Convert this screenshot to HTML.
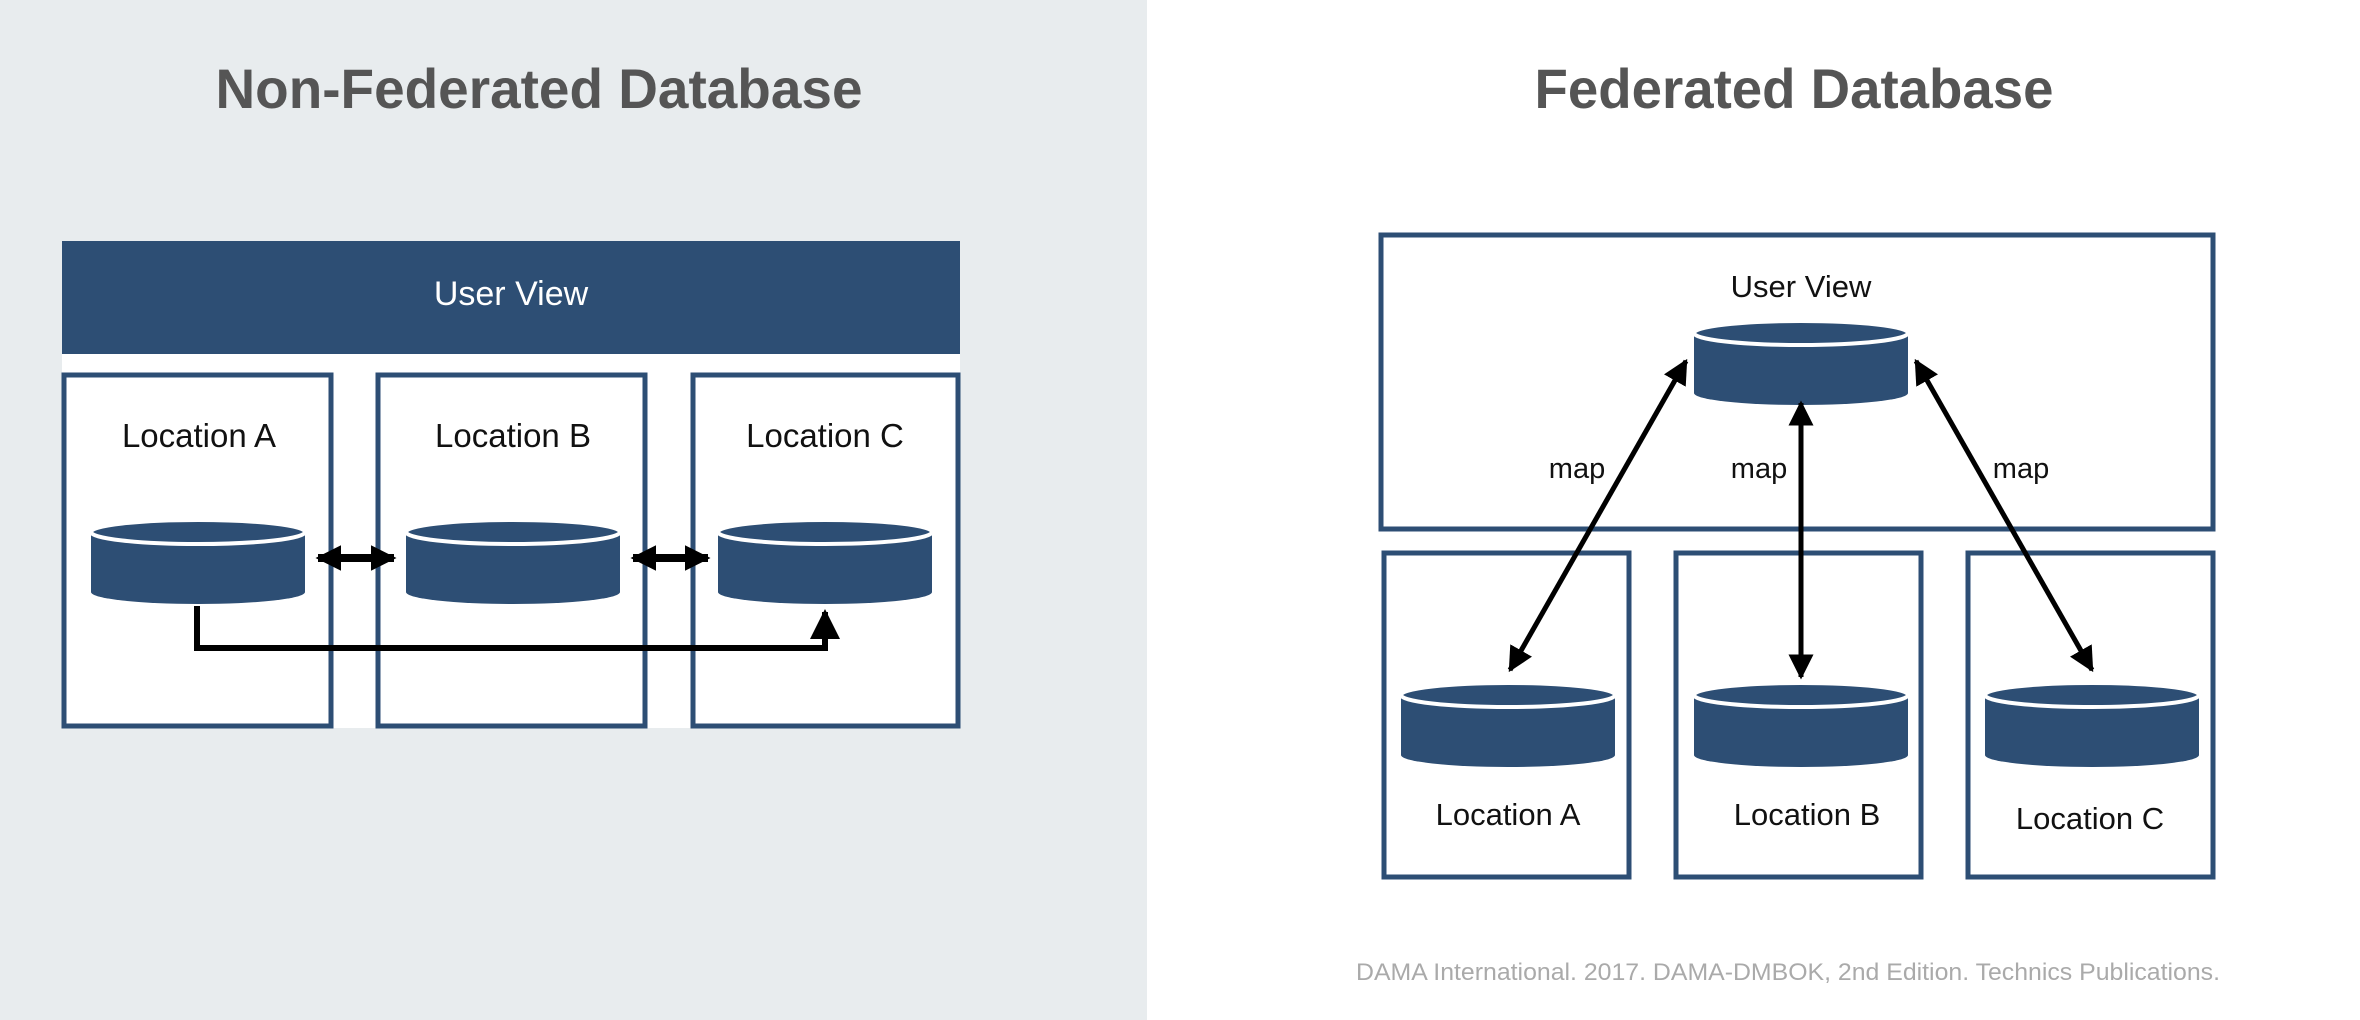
<!DOCTYPE html>
<html><head><meta charset="utf-8"><style>
html,body{margin:0;padding:0;width:2360px;height:1020px;overflow:hidden;background:#fff}
svg{display:block}
text{font-family:"Liberation Sans",sans-serif}
</style></head><body>
<svg width="2360" height="1020" viewBox="0 0 2360 1020" xmlns="http://www.w3.org/2000/svg">
<defs>
<g id="cyl">
<path d="M-107,-30 L-107,30 A107,12 0 0 0 107,30 L107,-30 Z" fill="#2d4e74"/>
<ellipse cx="0" cy="-30" rx="107" ry="12" fill="#2d4e74" stroke="#fff" stroke-width="4"/>
</g>
<marker id="ah" viewBox="0 0 10 10" refX="9" refY="5" markerWidth="5" markerHeight="5" orient="auto-start-reverse" markerUnits="strokeWidth">
<path d="M0,0 L10,5 L0,10 Z" fill="#000"/>
</marker>
<marker id="ah2" viewBox="0 0 10 10" refX="9" refY="5" markerWidth="3.2" markerHeight="3.6" orient="auto-start-reverse" markerUnits="strokeWidth">
<path d="M0,0 L10,5 L0,10 Z" fill="#000"/>
</marker>
</defs>
<rect x="0" y="0" width="1147" height="1020" fill="#e8ecee"/>
<text x="539" y="108" font-size="56" font-weight="bold" fill="#555" text-anchor="middle" textLength="647" lengthAdjust="spacingAndGlyphs">Non-Federated Database</text>
<text x="1794" y="108" font-size="56" font-weight="bold" fill="#555" text-anchor="middle" textLength="519" lengthAdjust="spacingAndGlyphs">Federated Database</text>

<!-- left diagram -->
<rect x="62" y="241" width="898" height="113" fill="#2d4e74"/>
<text x="511" y="305" font-size="34" fill="#fff" text-anchor="middle">User View</text>
<rect x="62" y="354" width="898" height="374" fill="#fff"/>
<rect x="64" y="375" width="267" height="351" fill="none" stroke="#2d4e74" stroke-width="5"/>
<rect x="378" y="375" width="267" height="351" fill="none" stroke="#2d4e74" stroke-width="5"/>
<rect x="693" y="375" width="265" height="351" fill="none" stroke="#2d4e74" stroke-width="5"/>
<text x="199" y="447" font-size="33" fill="#111" text-anchor="middle">Location A</text>
<text x="513" y="447" font-size="33" fill="#111" text-anchor="middle">Location B</text>
<text x="825" y="447" font-size="33" fill="#111" text-anchor="middle">Location C</text>
<use href="#cyl" x="198" y="562"/>
<use href="#cyl" x="513" y="562"/>
<use href="#cyl" x="825" y="562"/>
<line x1="318" y1="558" x2="394" y2="558" stroke="#000" stroke-width="8" marker-start="url(#ah2)" marker-end="url(#ah2)"/>
<line x1="633" y1="558" x2="708" y2="558" stroke="#000" stroke-width="8" marker-start="url(#ah2)" marker-end="url(#ah2)"/>
<polyline points="197,606 197,648 825,648 825,612" fill="none" stroke="#000" stroke-width="6" marker-end="url(#ah)"/>

<!-- right diagram -->
<rect x="1381" y="235" width="832" height="294" fill="none" stroke="#2d4e74" stroke-width="5"/>
<rect x="1384" y="553" width="245" height="324" fill="none" stroke="#2d4e74" stroke-width="5"/>
<rect x="1676" y="553" width="245" height="324" fill="none" stroke="#2d4e74" stroke-width="5"/>
<rect x="1968" y="553" width="245" height="324" fill="none" stroke="#2d4e74" stroke-width="5"/>
<text x="1801" y="297" font-size="31" fill="#111" text-anchor="middle">User View</text>
<use href="#cyl" x="1801" y="363"/>
<use href="#cyl" x="1508" y="725"/>
<use href="#cyl" x="1801" y="725"/>
<use href="#cyl" x="2092" y="725"/>
<text x="1508" y="825" font-size="31" fill="#111" text-anchor="middle">Location A</text>
<text x="1807" y="825" font-size="31" fill="#111" text-anchor="middle">Location B</text>
<text x="2090" y="829" font-size="31" fill="#111" text-anchor="middle">Location C</text>
<line x1="1686" y1="361" x2="1510" y2="670" stroke="#000" stroke-width="5" marker-start="url(#ah)" marker-end="url(#ah)"/>
<line x1="1801" y1="403" x2="1801" y2="677" stroke="#000" stroke-width="5" marker-start="url(#ah)" marker-end="url(#ah)"/>
<line x1="1916" y1="361" x2="2092" y2="670" stroke="#000" stroke-width="5" marker-start="url(#ah)" marker-end="url(#ah)"/>
<text x="1577" y="478" font-size="29" fill="#111" text-anchor="middle">map</text>
<text x="1759" y="478" font-size="29" fill="#111" text-anchor="middle">map</text>
<text x="2021" y="478" font-size="29" fill="#111" text-anchor="middle">map</text>

<text x="2220" y="980" font-size="24" fill="#aaa" text-anchor="end" textLength="864" lengthAdjust="spacingAndGlyphs">DAMA International. 2017. DAMA-DMBOK, 2nd Edition. Technics Publications.</text>
</svg>
</body></html>
